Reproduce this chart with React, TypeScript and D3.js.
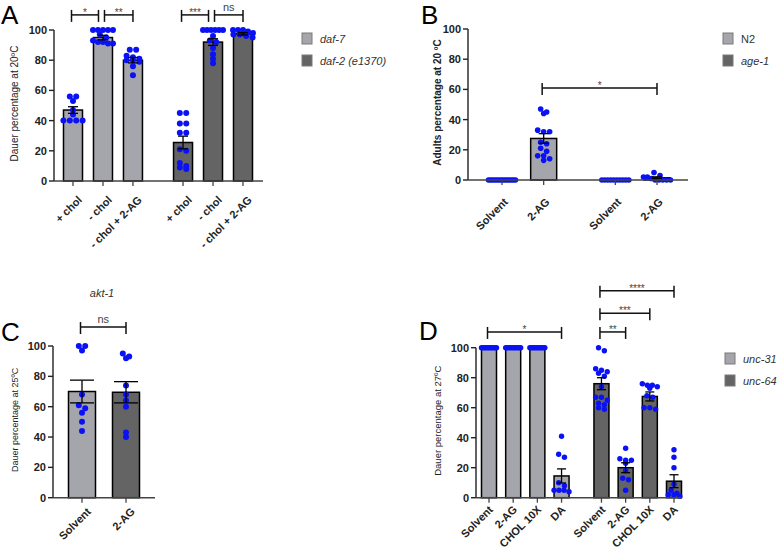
import React, { useEffect } from 'react';
import * as d3 from 'd3';

const LIGHT = '#a5a5ac';
const DARK = '#646464';
const DOT = '#0a12f5';
const FONT = '"Liberation Sans", Arial, sans-serif';

// ---- Panel A: daf-7 / daf-2 (e1370)
const aCategories = ['+ chol', '- chol', '- chol + 2-AG', '+ chol', '- chol', '- chol + 2-AG'];
const aGroups = [0, 0, 0, 1, 1, 1];
const aMeans = [47, 95, 80, 25.5, 92, 97.5];
const aSems = [2.2, 1.5, 1.8, 4.2, 2.2, 0.8];
const aPoints = [
  [56, 56, 53, 47, 44, 40, 40, 40, 40],
  [100, 100, 100, 100, 100, 97, 95, 93, 92, 92, 91, 91],
  [87, 87, 83, 82, 81, 80, 80, 79, 76, 70],
  [45, 45, 38, 38, 32, 32, 21, 20, 12, 10, 9, 8],
  [100, 100, 100, 100, 100, 100, 96, 93, 92, 88, 84, 81, 78],
  [100, 100, 100, 99, 98, 97, 97, 96, 95],
];
const aBrackets = [
  { from: 0, to: 1, label: '*', y: 110 },
  { from: 1, to: 2, label: '**', y: 110 },
  { from: 3, to: 4, label: '***', y: 110 },
  { from: 4, to: 5, label: 'ns', y: 110 },
];
const aLegend = [
  { label: 'daf-7', italic: true },
  { label: 'daf-2 (e1370)', italic: true },
];

// ---- Panel B: N2 / age-1
const bCategories = ['Solvent', '2-AG', 'Solvent', '2-AG'];
const bGroups = [0, 0, 1, 1];
const bMeans = [0, 27.5, 0, 1.5];
const bSems = [0, 3.2, 0, 0.6];
const bPoints = [
  [0, 0, 0, 0, 0, 0, 0, 0, 0, 0, 0, 0, 0, 0],
  [47, 45, 44, 33, 32, 32, 25, 24, 21, 19, 16, 16, 14, 13],
  [0, 0, 0, 0, 0, 0, 0, 0, 0, 0],
  [5, 3, 2, 2, 1, 0, 0, 0, 0, 0],
];
const bBrackets = [{ from: 1, to: 3, label: '*', y: 61 }];
const bLegend = [
  { label: 'N2', italic: false },
  { label: 'age-1', italic: true },
];

// ---- Panel C: akt-1
const cCategories = ['Solvent', '2-AG'];
const cGroups = [0, 1];
const cMeans = [70, 69.5];
const cSems = [7.5, 7];
const cPoints = [
  [100, 100, 97, 68, 61, 59, 56, 50, 44],
  [95, 93, 92, 74, 68, 64, 60, 43, 40],
];
const cBrackets = [{ from: 0, to: 1, label: 'ns', y: 112.5 }];

// ---- Panel D: unc-31 / unc-64
const dCategories = ['Solvent', '2-AG', 'CHOL 10X', 'DA', 'Solvent', '2-AG', 'CHOL 10X', 'DA'];
const dGroups = [0, 0, 0, 0, 1, 1, 1, 1];
const dMeans = [100, 100, 100, 14.5, 76, 20, 67.5, 11];
const dSems = [0, 0, 0, 4.7, 4, 3.3, 3, 4.3];
const dPoints = [
  [100, 100, 100, 100, 100, 100, 100, 100, 100, 100],
  [100, 100, 100, 100, 100, 100, 100, 100, 100, 100],
  [100, 100, 100, 100, 100, 100, 100, 100, 100, 100],
  [41, 29, 27, 10, 8, 5, 5, 5, 4],
  [100, 98, 86, 85, 84, 83, 81, 74, 67, 67, 65, 63, 62, 60, 59],
  [33, 26, 25, 25, 23, 18, 13, 12, 5],
  [76, 75, 75, 74, 73, 68, 67, 60, 60, 59],
  [32, 27, 20, 9, 5, 3, 2, 2, 1],
];
const dBrackets = [
  { from: 0, to: 3, label: '*', y: 110.5 },
  { from: 4, to: 5, label: '**', y: 110.5 },
  { from: 4, to: 6, label: '***', y: 123 },
  { from: 4, to: 7, label: '****', y: 138 },
];
const dLegend = [
  { label: 'unc-31', italic: true },
  { label: 'unc-64', italic: true },
];

const yTicks = [0, 20, 40, 60, 80, 100];

type Bracket = { from: number; to: number; label: string; y: number };
type LegendItem = { label: string; italic: boolean };

interface PanelProps {
  letter: string;
  letterX: number;
  letterY: number;
  left: number;
  axisRight: number;
  top: number;
  bottom: number;
  first: number;
  last: number;
  groupGap: number;
  categories: string[];
  groups: number[];
  means: number[];
  sems: number[];
  points: number[][];
  brackets: Bracket[];
  barW: number;
  capW: number;
  r: number;
  maxW: number;
  labelDx: number;
  labelDy: number;
  yLabel: string;
  yLabelX: number;
  yLabelSize: number;
  yLabelBold?: boolean;
  legend?: LegendItem[];
  legendX?: number;
  legendY?: number;
  title?: string;
  titleX?: number;
  titleY?: number;
}

// spread dots of similar height side by side (rows), keeps them inside maxW
function layoutDots(values: number[], y: d3.ScaleLinear<number, number>, r: number, maxW: number) {
  const sorted = values.map(v => y(v)).sort((a, b) => a - b);
  const rows: number[][] = [];
  sorted.forEach(py => {
    const row = rows[rows.length - 1];
    if (row && py - row[0] < r * 1.3) row.push(py);
    else rows.push([py]);
  });
  const out: { dx: number; py: number }[] = [];
  rows.forEach(row => {
    const n = row.length;
    const step = n > 1 ? Math.min(2 * r + 0.4, maxW / (n - 1)) : 0;
    row.forEach((py, k) => out.push({ dx: (k - (n - 1) / 2) * step, py }));
  });
  return out;
}

const Panel: React.FC<PanelProps> = p => {
  const y = d3.scaleLinear().domain([0, 100]).range([p.bottom, p.top]);
  const slots = p.categories.map((_, i) => i + p.groups[i] * p.groupGap);
  const x = d3.scaleLinear().domain([0, slots[slots.length - 1] || 1]).range([p.first, p.last]);
  const cx = (i: number) => x(slots[i]);

  return (
    <g fontFamily={FONT}>
      <text x={p.letterX} y={p.letterY} fontSize={26} fill="#000">{p.letter}</text>

      {p.title && (
        <text x={p.titleX} y={p.titleY} fontSize={11} fontStyle="italic" fill="#333" textAnchor="middle">{p.title}</text>
      )}

      {/* y label */}
      <text
        transform={`translate(${p.yLabelX},${(p.top + p.bottom) / 2 - 2}) rotate(-90)`}
        fontSize={p.yLabelSize}
        fontWeight={p.yLabelBold ? 'bold' : 'normal'}
        textAnchor="middle"
        fill="#222"
      >
        {p.yLabel}
      </text>

      {/* bars */}
      {p.means.map((m, i) =>
        m > 0 ? (
          <rect
            key={`bar-${i}`}
            x={cx(i) - p.barW / 2}
            y={y(m)}
            width={p.barW}
            height={y(0) - y(m)}
            fill={p.groups[i] === 0 ? LIGHT : DARK}
            stroke="#000"
            strokeWidth={1.5}
          />
        ) : null
      )}

      {/* dots */}
      {p.points.map((vals, i) =>
        layoutDots(vals, y, p.r, p.maxW).map((d, k) => (
          <circle key={`pt-${i}-${k}`} cx={cx(i) + d.dx} cy={d.py} r={p.r} fill={DOT} />
        ))
      )}

      {/* error bars */}
      {p.means.map((m, i) =>
        p.sems[i] > 0 ? (
          <g key={`err-${i}`} stroke="#000" strokeWidth={1.3}>
            <line x1={cx(i)} x2={cx(i)} y1={y(m + p.sems[i])} y2={y(m - p.sems[i])} />
            <line x1={cx(i) - p.capW / 2} x2={cx(i) + p.capW / 2} y1={y(m + p.sems[i])} y2={y(m + p.sems[i])} />
            <line x1={cx(i) - p.capW / 2} x2={cx(i) + p.capW / 2} y1={y(m - p.sems[i])} y2={y(m - p.sems[i])} />
          </g>
        ) : null
      )}

      {/* axes */}
      <line x1={p.left} x2={p.left} y1={p.top} y2={p.bottom} stroke="#222" strokeWidth={1.4} />
      <line x1={p.left} x2={p.axisRight} y1={p.bottom} y2={p.bottom} stroke="#444" strokeWidth={1.4} />
      {yTicks.map(t => (
        <g key={`yt-${t}`}>
          <line x1={p.left - 5} x2={p.left} y1={y(t)} y2={y(t)} stroke="#222" strokeWidth={1.4} />
          <text x={p.left - 7} y={y(t)} dy="0.36em" fontSize={11} fontWeight="bold" textAnchor="end" fill="#222">{t}</text>
        </g>
      ))}
      {p.categories.map((c, i) => (
        <g key={`xt-${i}`}>
          <line x1={cx(i)} x2={cx(i)} y1={p.bottom} y2={p.bottom + 5} stroke="#444" strokeWidth={1.3} />
          <text
            transform={`translate(${cx(i) + p.labelDx + 5.6},${p.bottom + p.labelDy + 5.6}) rotate(-45)`}
            fontSize={11}
            fontWeight="bold"
            textAnchor="end"
            fill="#222"
          >
            {c}
          </text>
        </g>
      ))}

      {/* significance brackets */}
      {p.brackets.map((b, i) => {
        const sharedEnd = p.brackets.some(o => o !== b && o.y === b.y && o.from === b.to);
        const sharedStart = p.brackets.some(o => o !== b && o.y === b.y && o.to === b.from);
        const x1 = cx(b.from) - 1.5 + (sharedStart ? 3 : 0);
        const x2 = cx(b.to) - (sharedEnd ? 4.5 : 0);
        const ly = y(b.y);
        const stars = b.label.startsWith('*');
        return (
          <g key={`br-${i}`}>
            <g stroke="#111" strokeWidth={1.5}>
              <line x1={x1} x2={x2} y1={ly} y2={ly} />
              <line x1={x1} x2={x1} y1={ly - 5} y2={ly + 7} />
              <line x1={x2} x2={x2} y1={ly - 5} y2={ly + 7} />
            </g>
            <text
              x={(x1 + x2) / 2}
              y={stars ? ly + 1 : ly - 4}
              fontSize={stars ? 10 : 11}
              textAnchor="middle"
              fill="#444"
            >
              {b.label}
            </text>
          </g>
        );
      })}

      {/* legend */}
      {p.legend &&
        p.legend.map((l, i) => (
          <g key={`lg-${i}`} transform={`translate(${p.legendX},${(p.legendY || 0) + i * 22})`}>
            <rect x={0} y={0} width={10} height={11} fill={i === 0 ? LIGHT : DARK} stroke="#7a7a7a" strokeWidth={1} />
            <text x={18} y={9.5} fontSize={11} fontStyle={l.italic ? 'italic' : 'normal'} fill="#333">{l.label}</text>
          </g>
        ))}
    </g>
  );
};

const App: React.FC = () => {
  useEffect(() => {
    document.body.style.margin = '0';
  }, []);

  return (
    <svg width={784} height={552} style={{ display: 'block', background: '#fff' }}>
      <Panel
        letter="A" letterX={1} letterY={24}
        left={54} axisRight={263} top={30} bottom={181}
        first={73} last={243} groupGap={0.67}
        categories={aCategories} groups={aGroups} means={aMeans} sems={aSems} points={aPoints}
        brackets={aBrackets} barW={19} capW={10} r={3} maxW={20}
        labelDx={4} labelDy={14}
        yLabel="Dauer percentage at 20ºC" yLabelX={18} yLabelSize={10}
        legend={aLegend} legendX={302} legendY={33}
      />
      <Panel
        letter="B" letterX={421} letterY={24}
        left={468} axisRight={688} top={29} bottom={180}
        first={502} last={657} groupGap={0.72}
        categories={bCategories} groups={bGroups} means={bMeans} sems={bSems} points={bPoints}
        brackets={bBrackets} barW={26} capW={10} r={2.8} maxW={27}
        labelDx={1} labelDy={17}
        yLabel="Adults percentage at 20 ºC" yLabelX={441} yLabelSize={10} yLabelBold
        legend={bLegend} legendX={723} legendY={33}
      />
      <Panel
        letter="C" letterX={1} letterY={341}
        left={53} axisRight={155} top={346} bottom={497.7}
        first={82} last={126} groupGap={0}
        categories={cCategories} groups={cGroups} means={cMeans} sems={cSems} points={cPoints}
        brackets={cBrackets} barW={27} capW={24} r={3} maxW={10}
        labelDx={4} labelDy={9}
        yLabel="Dauer percentage at 25ºC" yLabelX={18} yLabelSize={9}
        title="akt-1" titleX={102} titleY={297}
      />
      <Panel
        letter="D" letterX={419} letterY={340}
        left={476} axisRight={681} top={347.7} bottom={497.7}
        first={489} last={674} groupGap={0.65}
        categories={dCategories} groups={dGroups} means={dMeans} sems={dSems} points={dPoints}
        brackets={dBrackets} barW={15} capW={9} r={2.7} maxW={15}
        labelDx={-1} labelDy={7}
        yLabel="Dauer percentage at 27ºC" yLabelX={441} yLabelSize={9.5}
        legend={dLegend} legendX={725} legendY={353}
      />
    </svg>
  );
};

export default App;
